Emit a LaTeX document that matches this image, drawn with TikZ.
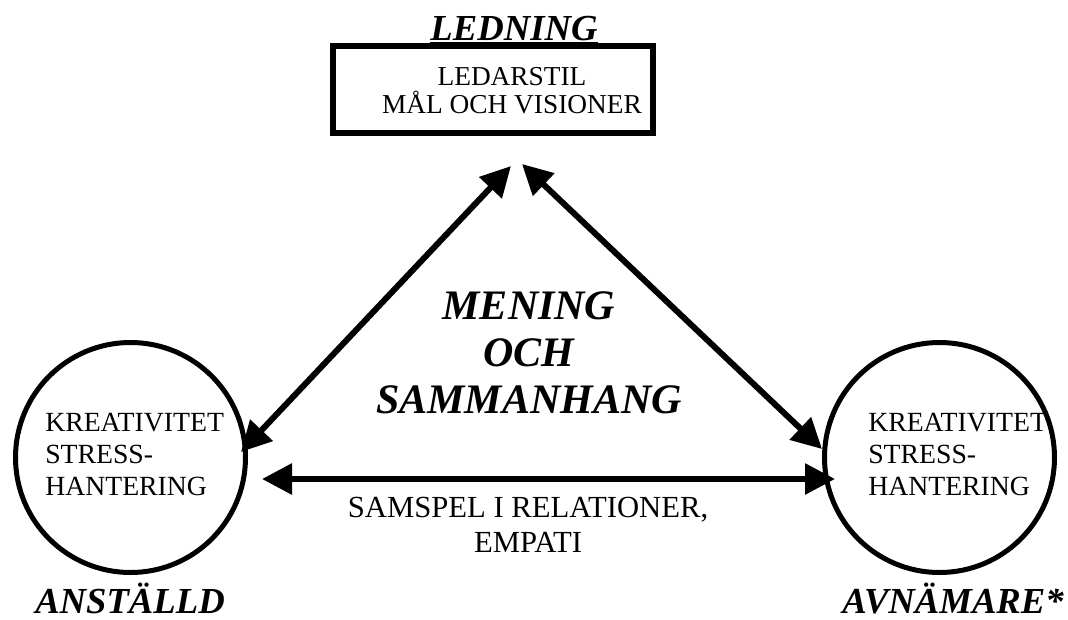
\documentclass[tikz,border=0pt]{standalone}
\usepackage{fontspec}
\setmainfont{Liberation Serif}
\usetikzlibrary{arrows.meta}
\tikzset{
  ledbox/.style={draw, line width=4.5pt, minimum width=240pt, minimum height=65pt, inner sep=0pt},
  partcirc/.style={draw, circle, line width=3.75pt, minimum size=172.5pt, inner sep=0pt},
  rolelabel/.style={font=\fontsize{27.5}{30}\selectfont\bfseries\itshape, anchor=base, inner sep=0pt},
  bodytext/.style={font=\fontsize{20.5}{21}\selectfont, align=center, anchor=base, inner sep=0pt},
  circtext/.style={font=\fontsize{20.8}{24}\selectfont, align=left, anchor=base west, inner sep=0pt},
  dblarrow/.style={line width=4.5pt, {Triangle[length=22.5pt,width=22.5pt]}-{Triangle[length=22.5pt,width=22.5pt]}}
}
\begin{document}
\begin{tikzpicture}[x=0.75pt,y=-0.75pt]
	\useasboundingbox (0,0) rectangle (1068,619);
	\coordinate (TL) at (511,166);
	\coordinate (TR) at (522,164);
	\coordinate (L1) at (241,452);
	\coordinate (R1) at (822,449);
	\coordinate (L2) at (262,479);
	\coordinate (R2) at (835,479);
	
	\node[ledbox] (box) at (493,89.5) {};
	\node[partcirc] (lcirc) at (130.5,457.5) {};
	\node[partcirc] (rcirc) at (939.5,457.5) {};
	
	\draw[dblarrow] (TL) -- (L1);
	\draw[dblarrow] (TR) -- (R1);
	\draw[dblarrow] (L2) -- (R2);
	
	\node[rolelabel] (ledning) at (514,40) {\underline{LEDNING}};
	\node[bodytext] (ledtext) at (512,113) {LEDARSTIL\\MÅL OCH VISIONER};
	\node[circtext] (ltext) at (45,495) {KREATIVITET\\STRESS-\\HANTERING};
	\node[circtext] (rtext) at (868,495) {KREATIVITET\\STRESS-\\HANTERING};
	\node[font=\fontsize{31.5}{34.9}\selectfont\bfseries\itshape, align=center, anchor=base, inner sep=0pt] (mening) at (529,413) {MENING\\OCH\\SAMMANHANG};
	\node[bodytext, font=\fontsize{23}{26.2}\selectfont] (samspel) at (528,552) {SAMSPEL I RELATIONER,\\EMPATI};
	\node[rolelabel] (anstalld) at (130,613) {ANSTÄLLD};
	\node[rolelabel] (avnamare) at (953,613) {AVNÄMARE*};
\end{tikzpicture}
\end{document}
